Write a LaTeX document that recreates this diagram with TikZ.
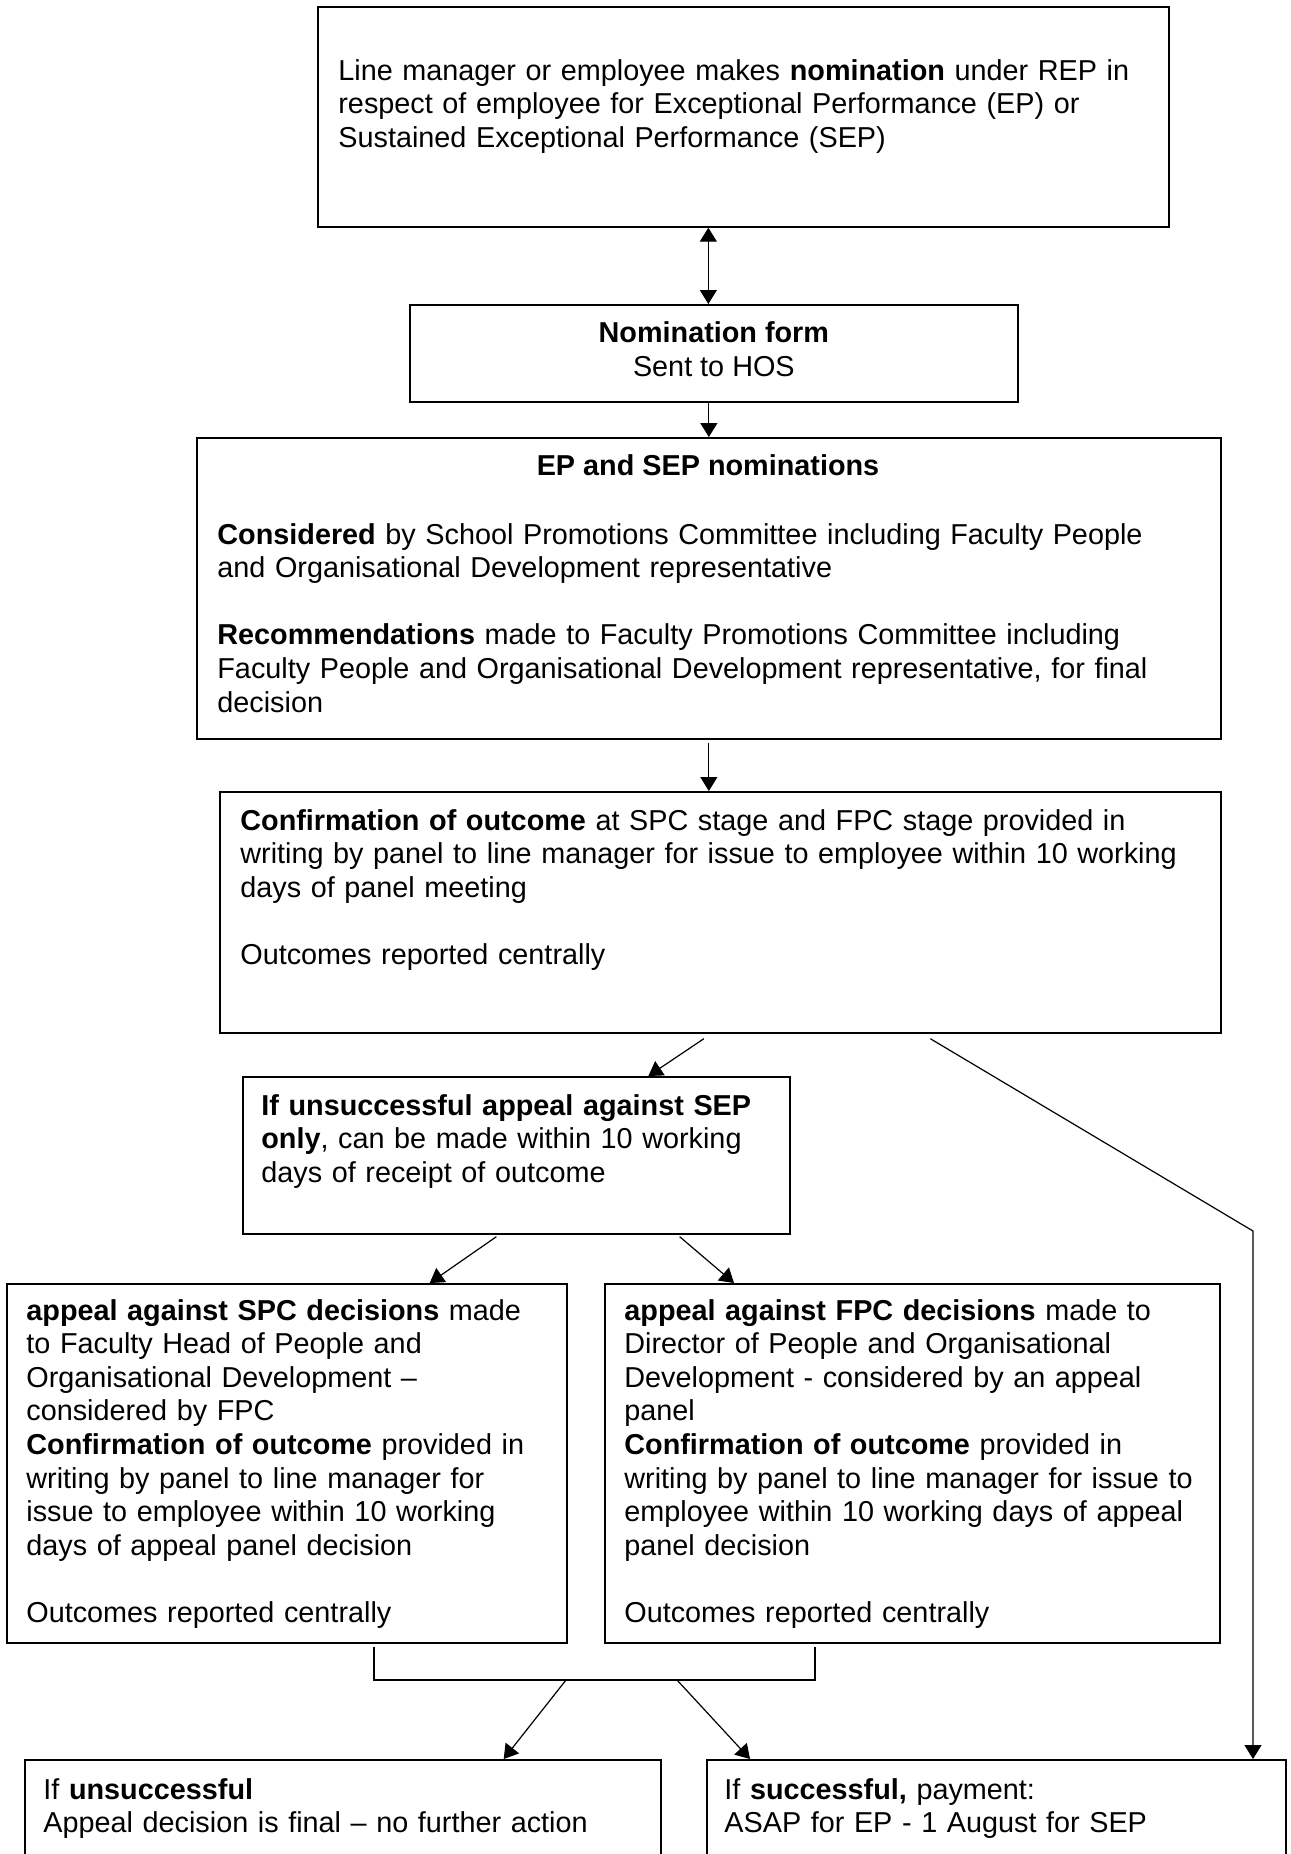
\documentclass[tikz,border=0pt]{standalone}
\usepackage{fontspec}
\setmainfont{Liberation Sans}
\usetikzlibrary{arrows.meta,positioning,calc}

\begin{document}
\begin{tikzpicture}[
  x=0.5pt, y=-0.5pt,
  font=\fontsize{14.4pt}{16.8pt}\selectfont,
  box/.style={rectangle, draw=black, line width=0.85pt, anchor=north west, inner sep=0pt},
  txt/.style={anchor=base west, inner sep=0pt, align=left, text width=#1},
  txt/.default=300pt,
  arrow/.style={-{Triangle[length=7pt, width=8.5pt]}, line width=0.6pt},
  twoway/.style={{Triangle[length=7pt, width=8.5pt]}-{Triangle[length=7pt, width=8.5pt]}, line width=0.6pt},
  link/.style={line width=0.6pt}
]
\useasboundingbox (0,0) rectangle (1291,1854);

% boxes
\node[box, minimum width=425.5pt, minimum height=110pt] (nom) at (317,6) {};
\node[txt=415pt] (nomtext) at (338,80) {Line manager or employee makes \textbf{nomination} under REP in\\respect of employee for Exceptional Performance (EP) or\\Sustained Exceptional Performance (SEP)};

\node[box, minimum width=304pt, minimum height=48.5pt] (form) at (409,304) {};
\node[align=center, inner sep=0pt] (formtext) at ($(form.center)+(0,-4)$) {\textbf{Nomination form}\\Sent to HOS};

\node[box, minimum width=512pt, minimum height=150.5pt] (spc) at (196,437) {};
\node[anchor=base, inner sep=0pt] (spchead) at (708,475) {\textbf{EP and SEP nominations}};
\node[txt=500pt] (spctext) at (217,544) {\textbf{Considered} by School Promotions Committee including Faculty People\\and Organisational Development representative\\[\baselineskip]\textbf{Recommendations} made to Faculty Promotions Committee including\\Faculty People and Organisational Development representative, for final\\decision};

\node[box, minimum width=500.5pt, minimum height=120.5pt] (outcome) at (219,791) {};
\node[txt=490pt] (outcometext) at (240,830) {\textbf{Confirmation of outcome} at SPC stage and FPC stage provided in\\writing by panel to line manager for issue to employee within 10 working\\days of panel meeting\\[\baselineskip]Outcomes reported centrally};

\node[box, minimum width=273.5pt, minimum height=78.5pt] (sepappeal) at (242,1076) {};
\node[txt=265pt] (sepappealtext) at (261,1115) {\textbf{If unsuccessful appeal against SEP}\\\textbf{only}, can be made within 10 working\\days of receipt of outcome};

\node[box, minimum width=280pt, minimum height=179.5pt] (spcappeal) at (6,1283) {};
\node[txt=270pt] (spcappealtext) at (26,1320) {\textbf{appeal against SPC decisions} made\\to Faculty Head of People and\\Organisational Development --\\considered by FPC\\\textbf{Confirmation of outcome} provided in\\writing by panel to line manager for\\issue to employee within 10 working\\days of appeal panel decision\\[\baselineskip]Outcomes reported centrally};

\node[box, minimum width=307.5pt, minimum height=179.5pt] (fpcappeal) at (604,1283) {};
\node[txt=300pt] (fpcappealtext) at (624,1320) {\textbf{appeal against FPC decisions} made to\\Director of People and Organisational\\Development - considered by an appeal\\panel\\\textbf{Confirmation of outcome} provided in\\writing by panel to line manager for issue to\\employee within 10 working days of appeal\\panel decision\\[\baselineskip]Outcomes reported centrally};

\node[box, minimum width=318pt, minimum height=80pt] (fail) at (24,1759) {};
\node[txt=300pt] (failtext) at (43,1799) {If \textbf{unsuccessful}\\Appeal decision is final -- no further action};

\node[box, minimum width=289.5pt, minimum height=80pt] (pass) at (706,1759) {};
\node[txt=280pt] (passtext) at (724,1799) {If \textbf{successful,} payment:\\ASAP for EP - 1 August for SEP};

% connectors
\coordinate (bend) at (1253,1231);
\coordinate (joinL) at (374,1680);
\coordinate (joinR) at (815,1680);
\coordinate (splitL) at (566,1680);
\coordinate (splitR) at (677,1680);

\draw[twoway] ([xshift=-17.5pt]nom.south) -- ([xshift=-17.5pt]nom.south |- form.north);
\draw[arrow] ([xshift=-2.5pt]form.south) -- ([xshift=-2.5pt]form.south |- spc.north);
\draw[arrow] ([yshift=-1.5pt]spc.south) -- (spc.south |- outcome.north);
\draw[arrow] ([xshift=-8.25pt, yshift=-2.5pt]outcome.south) -- ([xshift=66pt]sepappeal.north);
\draw[arrow] ([xshift=105pt, yshift=-2.5pt]outcome.south) -- (bend) -- (bend |- pass.north);
\draw[arrow] ([xshift=-10pt, yshift=-1pt]sepappeal.south) -- ([xshift=-69pt]spcappeal.north east);
\draw[arrow] ([xshift=-55.5pt, yshift=-1pt]sepappeal.south east) -- ([xshift=65pt]fpcappeal.north west);
\draw[link] ($(spcappeal.south -| joinL)+(0,3)$) -- (joinL) -- (joinR) -- ($(fpcappeal.south -| joinR)+(0,3)$);
\draw[arrow] (splitL) -- ([xshift=-79pt]fail.north east);
\draw[arrow] (splitR) -- ([xshift=22pt]pass.north west);
\end{tikzpicture}
\end{document}
